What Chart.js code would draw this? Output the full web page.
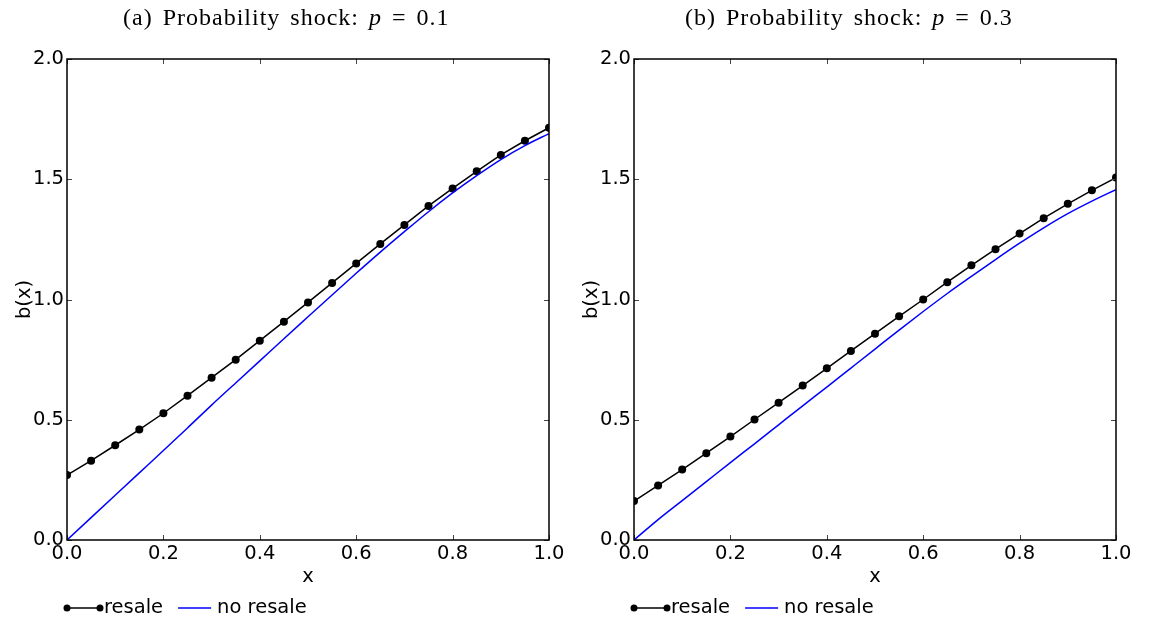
<!DOCTYPE html>
<html>
<head>
<meta charset="utf-8">
<script src="https://cdn.jsdelivr.net/npm/chart.js@4"></script>
<style>
  body { margin: 0; background: #fff; }
  #wrap { position: relative; width: 1149px; height: 624px; overflow: hidden; }
  .panel { position: absolute; top: 0; }
  .title {
    position: absolute; top: 4px; font-family: "Liberation Serif", serif;
    font-size: 24px; letter-spacing: 1px; word-spacing: 3px; color: #000;
    white-space: nowrap;
  }
</style>
</head>
<body>
<div id="wrap">
  <canvas id="chartA" class="panel" width="574" height="624" style="left:0"></canvas>
  <canvas id="chartB" class="panel" width="577" height="624" style="left:572px"></canvas>
  <div class="title" style="left:123px">(a) Probability shock: <i>p</i> = 0.1</div>
  <div class="title" style="left:685px">(b) Probability shock: <i>p</i> = 0.3</div>
</div>
<script>
// --- Data ---
const xValues = [0, 0.05, 0.1, 0.15, 0.2, 0.25, 0.3, 0.35, 0.4, 0.45, 0.5,
  0.55, 0.6, 0.65, 0.7, 0.75, 0.8, 0.85, 0.9, 0.95, 1.0];

// p = 0.1
const resaleA = [0.270, 0.330, 0.394, 0.459, 0.527, 0.600, 0.675, 0.750, 0.829, 0.908, 0.988,
  1.069, 1.150, 1.231, 1.310, 1.389, 1.462, 1.533, 1.601, 1.660, 1.714];
const noResaleA = [0, 0.093, 0.186, 0.279, 0.372, 0.466, 0.561, 0.653, 0.745, 0.837, 0.928,
  1.019, 1.109, 1.197, 1.282, 1.365, 1.443, 1.515, 1.582, 1.640, 1.690];

// p = 0.3
const resaleB = [0.162, 0.227, 0.293, 0.361, 0.430, 0.501, 0.571, 0.642, 0.714, 0.786, 0.858,
  0.930, 1.000, 1.072, 1.142, 1.209, 1.274, 1.338, 1.398, 1.454, 1.507];
const noResaleB = [0, 0.085, 0.164, 0.243, 0.322, 0.400, 0.479, 0.558, 0.636, 0.715, 0.794,
  0.873, 0.950, 1.025, 1.096, 1.166, 1.234, 1.298, 1.357, 1.409, 1.457];

const xTicks = [0, 0.2, 0.4, 0.6, 0.8, 1.0];
const yTicks = [0, 0.5, 1.0, 1.5, 2.0];
const seriesLabels = ["resale", "no resale"];

const FONT = "'DejaVu Sans', sans-serif";
const FONT_SIZE = 19.5;
const TICK_LEN = 5;

// Box round the plot area with inward ticks on all four sides
const frameTicks = {
  id: "frameTicks",
  afterDatasetsDraw(chart) {
    const { ctx, chartArea: a, scales } = chart;
    ctx.save();
    ctx.strokeStyle = "#444";
    ctx.lineWidth = 1;
    ctx.beginPath();
    xTicks.forEach((v) => {
      const px = Math.round(scales.x.getPixelForValue(v)) + 0.5;
      ctx.moveTo(px, a.bottom); ctx.lineTo(px, a.bottom - TICK_LEN);
      ctx.moveTo(px, a.top); ctx.lineTo(px, a.top + TICK_LEN);
    });
    yTicks.forEach((v) => {
      const py = Math.round(scales.y.getPixelForValue(v)) + 0.5;
      ctx.moveTo(a.left, py); ctx.lineTo(a.left + TICK_LEN, py);
      ctx.moveTo(a.right, py); ctx.lineTo(a.right - TICK_LEN, py);
    });
    ctx.stroke();
    ctx.strokeStyle = "#000";
    ctx.lineWidth = 1.5;
    ctx.strokeRect(a.left, a.top, a.width, a.height);
    ctx.restore();
  },
};

// Legend under the x axis: line with end dots for resale, plain line for no resale
const bottomLegend = {
  id: "bottomLegend",
  afterDraw(chart) {
    const { ctx, chartArea: a } = chart;
    const y = 608;
    const handle = 33;
    ctx.save();
    ctx.font = FONT_SIZE + "px " + FONT;
    ctx.textBaseline = "middle";
    ctx.fillStyle = "#000";

    let x = a.left;
    ctx.strokeStyle = "#000";
    ctx.lineWidth = 1.5;
    ctx.beginPath(); ctx.moveTo(x, y); ctx.lineTo(x + handle, y); ctx.stroke();
    [x, x + handle].forEach((cx) => {
      ctx.beginPath(); ctx.arc(cx, y, 3.5, 0, Math.PI * 2); ctx.fill();
    });
    x += handle + 4;
    ctx.fillText(seriesLabels[0], x, y);
    x += ctx.measureText(seriesLabels[0]).width + 15;

    ctx.strokeStyle = "#0000ff";
    ctx.beginPath(); ctx.moveTo(x, y); ctx.lineTo(x + handle, y); ctx.stroke();
    x += handle + 6;
    ctx.fillText(seriesLabels[1], x, y);
    ctx.restore();
  },
};

const makeChart = (canvasId, resale, noResale, padLeft, padRight) => {
  const toPoints = (ys) => xValues.map((x, i) => ({ x, y: ys[i] }));
  return new Chart(document.getElementById(canvasId), {
    type: "line",
    data: {
      datasets: [
        {
          label: seriesLabels[1],
          data: toPoints(noResale),
          borderColor: "#0000ff",
          borderWidth: 1.5,
          pointRadius: 0,
          cubicInterpolationMode: "monotone",
          clip: 0,
        },
        {
          label: seriesLabels[0],
          data: toPoints(resale),
          borderColor: "#000",
          borderWidth: 1.5,
          backgroundColor: "#000",
          pointRadius: 4,
          pointBorderWidth: 0,
          pointBackgroundColor: "#000",
          tension: 0,
          clip: 0,
        },
      ],
    },
    options: {
      responsive: false,
      animation: false,
      events: [],
      layout: { padding: { left: padLeft, top: 59, right: padRight, bottom: 32 } },
      plugins: { legend: { display: false }, tooltip: { enabled: false } },
      scales: {
        x: {
          type: "linear",
          min: 0,
          max: 1,
          grid: { display: false, drawTicks: false },
          border: { display: false },
          afterBuildTicks: (s) => { s.ticks = xTicks.map((v) => ({ value: v })); },
          afterFit: (s) => { s.height = 52; },
          ticks: {
            padding: 2,
            color: "#000",
            font: { family: FONT, size: FONT_SIZE },
            callback: (v) => v.toFixed(1),
            maxRotation: 0,
          },
          title: {
            display: true,
            text: "x",
            color: "#000",
            font: { family: FONT, size: FONT_SIZE },
            padding: { top: 0, bottom: 3 },
          },
        },
        y: {
          type: "linear",
          min: 0,
          max: 2,
          grid: { display: false, drawTicks: false },
          border: { display: false },
          afterBuildTicks: (s) => { s.ticks = yTicks.map((v) => ({ value: v })); },
          afterFit: (s) => { s.width = 62; },
          ticks: {
            padding: 3,
            color: "#000",
            font: { family: FONT, size: FONT_SIZE },
            callback: (v) => v.toFixed(1),
          },
          title: {
            display: true,
            text: "b(x)",
            color: "#000",
            font: { family: FONT, size: FONT_SIZE },
            padding: { top: 8, bottom: 0 },
          },
        },
      },
    },
    plugins: [frameTicks, bottomLegend],
  });
};

makeChart("chartA", resaleA, noResaleA, 5, 25);
makeChart("chartB", resaleB, noResaleB, 0, 33);
</script>
</body>
</html>
